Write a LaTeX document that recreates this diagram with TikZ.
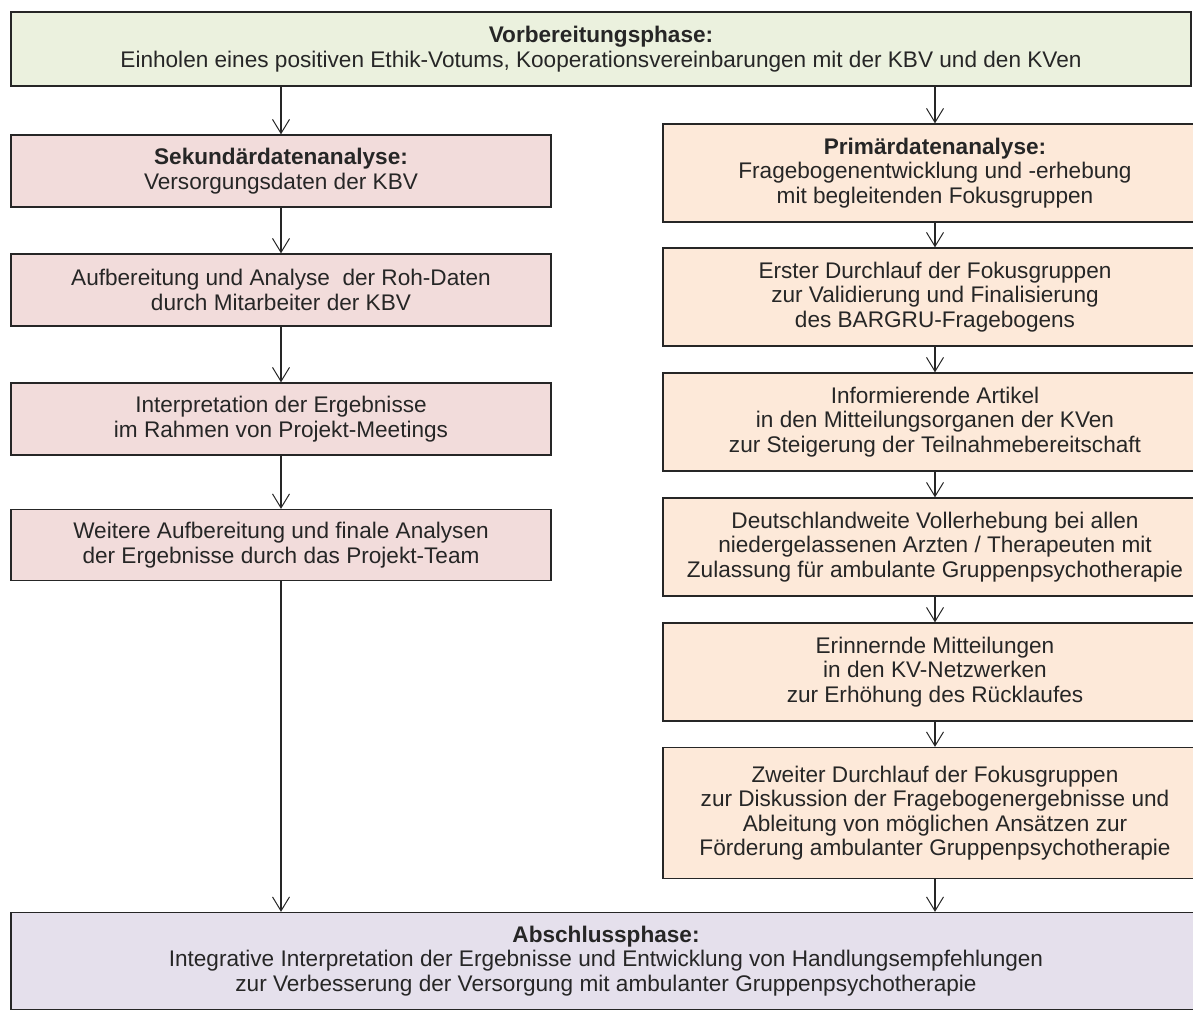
\documentclass[tikz,border=0pt]{standalone}
\usepackage{fontspec}
\setmainfont{Liberation Sans}
\usetikzlibrary{arrows.meta}
\definecolor{vorbgreen}{HTML}{EBF1DE}
\definecolor{sekpink}{HTML}{F2DCDB}
\definecolor{primpeach}{HTML}{FDE9D9}
\definecolor{abschllilac}{HTML}{E5E0EC}
\begin{document}
\begin{tikzpicture}[x=1pt, y=-1pt,
        box/.style={rectangle, draw=black!85, line width=1.3pt, align=center, inner sep=0pt,
            text=black!85, font=\fontsize{22.6}{24.5}\selectfont},
        phase/.style={box, minimum width=1180pt, minimum height=74pt},
        sekbox/.style={box, fill=sekpink, minimum width=540pt, minimum height=72pt},
        primbox/.style={box, fill=primpeach, minimum width=544pt, minimum height=98pt},
        arrow/.style={-{Straight Barb[length=14pt, width=17pt, line width=1pt]}, line width=1.2pt, draw=black!85}
    ]
        \useasboundingbox (0,0) rectangle (1193,1012);
        % Vorbereitung
        \node[phase, fill=vorbgreen] (vorb) at (601,49)
            {\textbf{Vorbereitungsphase:}\\Einholen eines positiven Ethik-Votums, Kooperationsvereinbarungen mit der KBV und den KVen};
        % linke Spalte
        \node[sekbox] (sek1) at (281,171)
            {\textbf{Sekundärdatenanalyse:}\\Versorgungsdaten der KBV};
        \node[sekbox] (sek2) at (281,290)
            {Aufbereitung und Analyse\ \ der Roh-Daten\\durch Mitarbeiter der KBV};
        \node[sekbox] (sek3) at (281,419)
            {Interpretation der Ergebnisse\\im Rahmen von Projekt-Meetings};
        \node[sekbox, minimum height=71pt] (sek4) at (281,545)
            {Weitere Aufbereitung und finale Analysen\\der Ergebnisse durch das Projekt-Team};
        % rechte Spalte
        \node[primbox] (prim1) at (935,173)
            {\textbf{Primärdatenanalyse:}\\Fragebogenentwicklung und -erhebung\\mit begleitenden Fokusgruppen};
        \node[primbox] (prim2) at (935,297)
            {Erster Durchlauf der Fokusgruppen\\zur Validierung und Finalisierung\\des BARGRU-Fragebogens};
        \node[primbox] (prim3) at (935,422)
            {Informierende Artikel\\in den Mitteilungsorganen der KVen\\zur Steigerung der Teilnahmebereitschaft};
        \node[primbox] (prim4) at (935,547)
            {Deutschlandweite Vollerhebung bei allen\\niedergelassenen Arzten / Therapeuten mit\\Zulassung für ambulante Gruppenpsychotherapie};
        \node[primbox] (prim5) at (935,672)
            {Erinnernde Mitteilungen\\in den KV-Netzwerken\\zur Erhöhung des Rücklaufes};
        \node[primbox, minimum height=131pt] (prim6) at (935,813)
            {Zweiter Durchlauf der Fokusgruppen\\zur Diskussion der Fragebogenergebnisse und\\Ableitung von möglichen Ansätzen zur\\Förderung ambulanter Gruppenpsychotherapie};
        % Abschluss
        \node[phase, fill=abschllilac, minimum width=1190pt, minimum height=97pt] (absch) at (606,961)
            {\textbf{Abschlussphase:}\\Integrative Interpretation der Ergebnisse und Entwicklung von Handlungsempfehlungen\\zur Verbesserung der Versorgung mit ambulanter Gruppenpsychotherapie};
        % Pfeile
        \draw[arrow] (sek1.north |- vorb.south) -- (sek1.north);
        \draw[arrow] (prim1.north |- vorb.south) -- (prim1.north);
        \foreach \from/\to in {sek1/sek2, sek2/sek3, sek3/sek4,
                prim1/prim2, prim2/prim3, prim3/prim4, prim4/prim5, prim5/prim6}
            \draw[arrow] (\from.south) -- (\to.north);
        \draw[arrow] (sek4.south) -- (sek4.south |- absch.north);
        \draw[arrow] (prim6.south) -- (prim6.south |- absch.north);
    \end{tikzpicture}
\end{document}
